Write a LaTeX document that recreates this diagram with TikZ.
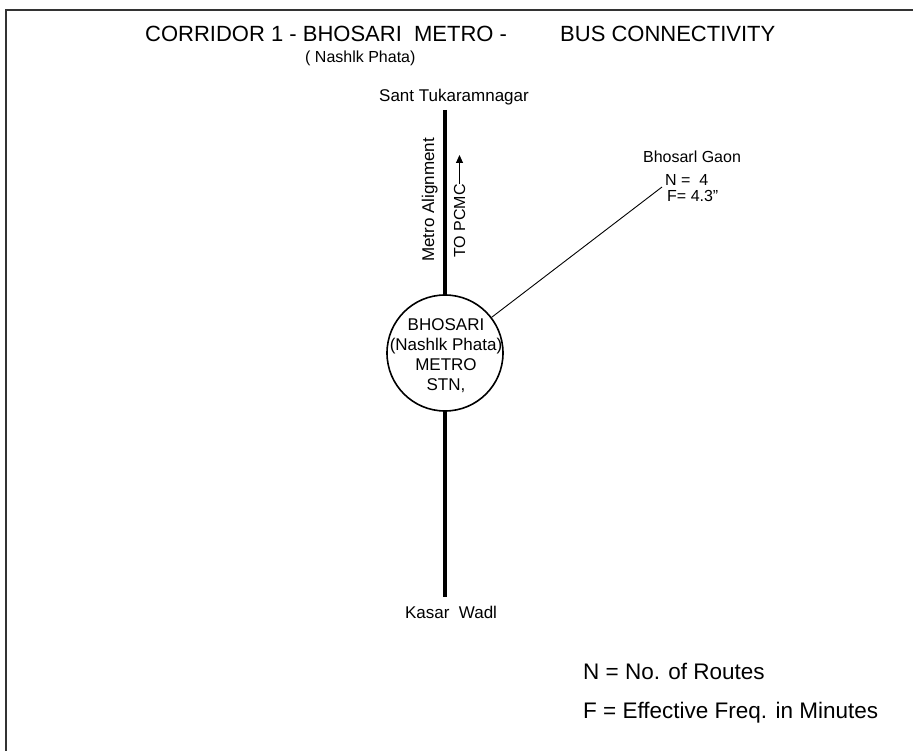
\documentclass[tikz,border=0pt]{standalone}
\usepackage{fontspec}
\setmainfont{Liberation Sans}
\usetikzlibrary{arrows.meta}
\begin{document}
\begin{tikzpicture}[x=1pt,y=-1pt,
  frame/.style={line width=1.8pt, draw=black!80},
  title/.style={inner sep=0pt, anchor=base west, font=\fontsize{22}{27}\selectfont},
  legend/.style={inner sep=0pt, anchor=base west, font=\fontsize{22.5}{28}\selectfont},
  lbl/.style={inner sep=0pt, font=\fontsize{17}{20}\selectfont},
  small/.style={inner sep=0pt, font=\fontsize{16}{19}\selectfont},
  metro/.style={line width=4.5pt},
  link/.style={line width=0.9pt},
  station/.style={circle, draw, line width=1.6pt, minimum size=116pt, inner sep=0pt},
]
\useasboundingbox (0,0) rectangle (913,751);
\coordinate (fa) at (6,751);
\coordinate (fb) at (6,10);
\coordinate (fc) at (913,10);
\draw[frame] (fa) -- (fb) -- (fc);

\node[title] (t1) at (145,42) {CORRIDOR 1 - BHOSARI~~METRO -};
\node[title] (t2) at (560,42) {BUS CONNECTIVITY};
\node[small, anchor=base west] (t3) at (305,63) {( Nashlk Phata)};

\node[lbl, anchor=base west] (north) at (379,102) {Sant Tukaramnagar};
\coordinate (ltop) at (445,110);
\coordinate (lbot) at (445,597);
\node[station] (stn) at (445,353) {};
\node[lbl, align=center] (stntext) at (446,356) {BHOSARI\\(Nashlk Phata)\\METRO\\STN,};
\draw[metro] (ltop) -- (stn.north);
\draw[metro] (stn.south) -- (lbot);

\node[lbl, anchor=base west, rotate=90] (align) at (434,262) {Metro Alignment};
\node[small, anchor=base west, rotate=90] (pcmc) at (465,258) {TO PCMC};
\coordinate (pcmctip) at (459,155);
\draw[line width=1pt, -{Triangle[length=8pt,width=7pt]}] (pcmc.east) -- (pcmc.east |- pcmctip);

\node[small, anchor=base] (gaon) at (692,163) {Bhosarl Gaon};
\node[small, anchor=base west] (gn) at (665,186) {N =~~4};
\node[small, anchor=base west] (gf) at (667,202) {F= 4.3"};
\coordinate (gend) at (662,187);
\draw[link] (stn) -- (gend);

\node[lbl, anchor=base] (south) at (451,618) {Kasar~~Wadl};
\node[legend] (leg1) at (583,679) {N = No. of Routes};
\node[legend] (leg2) at (583,718) {F = Effective Freq. in Minutes};
\end{tikzpicture}
\end{document}
